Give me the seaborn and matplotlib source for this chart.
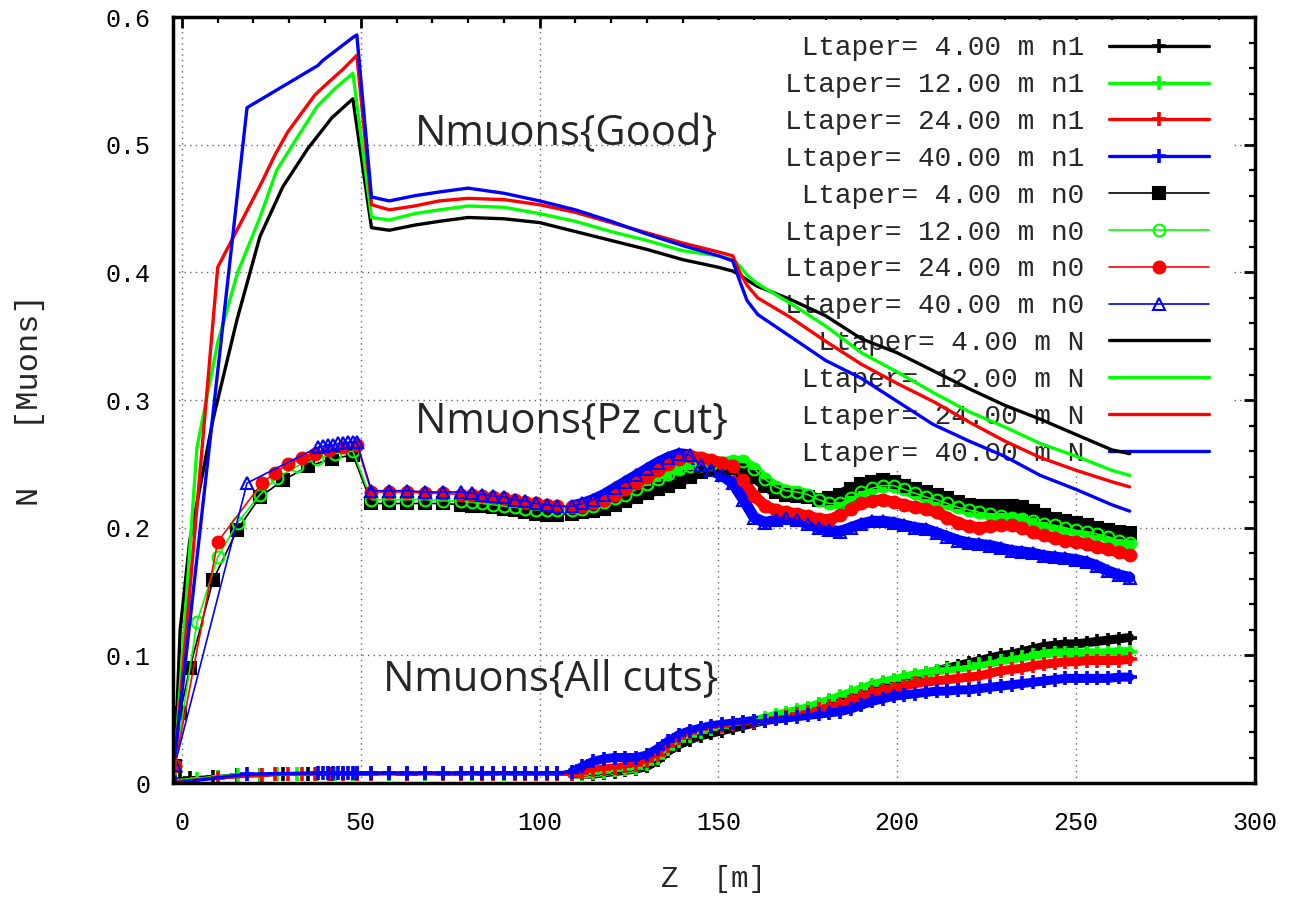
import numpy as np
import matplotlib
matplotlib.use("Agg")
import matplotlib.pyplot as plt
import seaborn as sns
from matplotlib.patches import Rectangle
from matplotlib.ticker import MultipleLocator, FuncFormatter

# ---- sampling positions along the channel (m) ----
# start-up section, one list per taper length
z_early_4 = [-2, -0.5, 2.2, 8.7, 15.4, 21.8, 28.2, 35.2, 41.9, 47.8]
z_early_12 = [-2, 4.2, 10, 15.6, 21.8, 26.5, 32.1, 37.8, 42.8, 47.8]
z_early_24 = [-2, 10, 22.4, 26, 29.6, 33.5, 37.2, 41, 45, 48.9]
z_early_40 = [-2, 18.2, 38, 39.4, 40.8, 42.2, 43.6, 45, 46.4, 47.8, 48.9]
# after the taper
z_mid = [53, 58, 63, 68, 73, 78, 81, 84, 87, 90, 93, 96, 99, 102, 105]
z_dense = np.arange(109, 266, 3)
z_good_late = [53, 58, 65, 72, 80, 90, 100, 110, 120, 130, 140, 150, 154, 156,
               158, 161, 170, 180, 190, 200, 210, 220, 230, 240, 250, 260, 265]

# ---- Nmuons{Good}  (series "N") ----
good_4_early = [0.015, 0.12, 0.19, 0.285, 0.363, 0.428, 0.467, 0.497, 0.521, 0.536]
good_12_early = [0.015, 0.263, 0.345, 0.40, 0.443, 0.48, 0.505, 0.53, 0.544, 0.556]
good_24_early = [0.015, 0.404, 0.471, 0.492, 0.51, 0.525, 0.539, 0.549, 0.559, 0.570]
good_40_early = [0.02, 0.529, 0.562, 0.566, 0.569, 0.572, 0.575, 0.578, 0.581, 0.584, 0.586]
good_4_late = [0.435, 0.433, 0.437, 0.440, 0.443, 0.442, 0.439, 0.432, 0.425, 0.418,
               0.410, 0.404, 0.401, 0.398, 0.394, 0.389, 0.379, 0.366, 0.348, 0.337,
               0.323, 0.309, 0.296, 0.285, 0.273, 0.261, 0.258]
good_12_late = [0.443, 0.441, 0.446, 0.449, 0.452, 0.451, 0.446, 0.440, 0.432, 0.425,
                0.417, 0.413, 0.410, 0.405, 0.398, 0.391, 0.376, 0.358, 0.337, 0.322,
                0.306, 0.291, 0.279, 0.266, 0.256, 0.245, 0.241]
good_24_late = [0.453, 0.449, 0.452, 0.456, 0.458, 0.457, 0.453, 0.447, 0.439, 0.431,
                0.423, 0.416, 0.413, 0.400, 0.390, 0.380, 0.365, 0.346, 0.328, 0.313,
                0.299, 0.283, 0.268, 0.255, 0.245, 0.236, 0.232]
good_40_late = [0.459, 0.456, 0.460, 0.463, 0.466, 0.462, 0.456, 0.449, 0.440, 0.430,
                0.421, 0.413, 0.409, 0.393, 0.378, 0.367, 0.350, 0.331, 0.317, 0.299,
                0.281, 0.268, 0.256, 0.241, 0.230, 0.218, 0.213]

# ---- Nmuons{Pz cut}  (series "n0") ----
pz_4_early = [0.013, 0.055, 0.09, 0.159, 0.198, 0.224, 0.237, 0.248, 0.254, 0.257]
pz_12_early = [0.013, 0.126, 0.177, 0.204, 0.226, 0.239, 0.248, 0.254, 0.258, 0.260]
pz_24_early = [0.013, 0.189, 0.235, 0.243, 0.25, 0.255, 0.258, 0.261, 0.263, 0.265]
pz_40_early = [0.014, 0.235, 0.263, 0.264, 0.265, 0.265, 0.266, 0.266, 0.267, 0.267, 0.267]
pz_4_mid = [0.219, 0.219, 0.219, 0.219, 0.219, 0.218, 0.217, 0.217, 0.216, 0.215,
            0.214, 0.212, 0.211, 0.210, 0.210]
pz_12_mid = [0.222, 0.222, 0.222, 0.222, 0.221, 0.221, 0.220, 0.219, 0.218, 0.217,
             0.216, 0.215, 0.214, 0.214, 0.214]
pz_24_mid = [0.228, 0.228, 0.228, 0.227, 0.227, 0.226, 0.226, 0.225, 0.224, 0.223,
             0.222, 0.220, 0.219, 0.218, 0.217]
pz_40_mid = [0.229, 0.229, 0.229, 0.228, 0.228, 0.228, 0.227, 0.226, 0.225, 0.224,
             0.222, 0.221, 0.219, 0.218, 0.217]
pz_4_dense = [0.211, 0.212, 0.213, 0.215, 0.218, 0.221, 0.224, 0.227, 0.230, 0.233,
              0.236, 0.240, 0.244, 0.246, 0.247, 0.247, 0.245, 0.240, 0.233, 0.228,
              0.226, 0.225, 0.224, 0.222, 0.223, 0.226, 0.230, 0.234, 0.236, 0.237,
              0.236, 0.233, 0.230, 0.228, 0.226, 0.223, 0.220, 0.218, 0.217, 0.217,
              0.217, 0.217, 0.216, 0.213, 0.210, 0.207, 0.205, 0.204, 0.202, 0.200,
              0.198, 0.197, 0.196]
pz_12_dense = [0.214, 0.215, 0.217, 0.220, 0.223, 0.226, 0.230, 0.234, 0.238, 0.242,
               0.246, 0.248, 0.249, 0.250, 0.251, 0.252, 0.252, 0.246, 0.238, 0.232,
               0.229, 0.228, 0.226, 0.222, 0.219, 0.219, 0.223, 0.228, 0.231, 0.233,
               0.233, 0.230, 0.227, 0.224, 0.222, 0.219, 0.216, 0.214, 0.212, 0.211,
               0.209, 0.208, 0.207, 0.205, 0.203, 0.202, 0.200, 0.198, 0.197, 0.195,
               0.193, 0.190, 0.188]
pz_24_dense = [0.216, 0.217, 0.219, 0.222, 0.226, 0.230, 0.235, 0.240, 0.245, 0.250,
               0.254, 0.256, 0.255, 0.253, 0.251, 0.248, 0.237, 0.225, 0.217, 0.214,
               0.212, 0.211, 0.209, 0.207, 0.206, 0.210, 0.215, 0.219, 0.221, 0.222,
               0.220, 0.218, 0.216, 0.215, 0.212, 0.208, 0.204, 0.201, 0.200, 0.201,
               0.202, 0.202, 0.200, 0.197, 0.194, 0.192, 0.190, 0.189, 0.187, 0.185,
               0.183, 0.181, 0.179]
pz_40_dense = [0.217, 0.219, 0.222, 0.226, 0.231, 0.236, 0.241, 0.246, 0.251, 0.255,
               0.258, 0.257, 0.249, 0.245, 0.241, 0.235, 0.222, 0.208, 0.204, 0.206,
               0.208, 0.206, 0.203, 0.200, 0.198, 0.197, 0.200, 0.203, 0.205, 0.205,
               0.204, 0.202, 0.200, 0.199, 0.196, 0.193, 0.190, 0.188, 0.187, 0.186,
               0.184, 0.182, 0.181, 0.180, 0.178, 0.177, 0.176, 0.175, 0.173, 0.170,
               0.166, 0.163, 0.161]

# ---- Nmuons{All cuts}  (series "n1") ----
all_4_early = [0.002, 0.003, 0.004, 0.005, 0.006, 0.006, 0.007, 0.007, 0.007, 0.007]
all_12_early = [0.002, 0.003, 0.005, 0.006, 0.006, 0.007, 0.007, 0.007, 0.007, 0.007]
all_24_early = [0.001, 0.004, 0.006, 0.007, 0.007, 0.007, 0.007, 0.007, 0.007, 0.007]
all_40_early = [0.0, 0.007, 0.008, 0.008, 0.008, 0.008, 0.008, 0.008, 0.008, 0.008, 0.008]
all_4_mid = [0.007, 0.007, 0.007, 0.007, 0.007, 0.007, 0.007, 0.007, 0.007, 0.007,
             0.007, 0.007, 0.007, 0.007, 0.007]
all_12_mid = [0.007, 0.007, 0.008, 0.007, 0.007, 0.007, 0.007, 0.008, 0.007, 0.007,
              0.007, 0.007, 0.007, 0.007, 0.007]
all_24_mid = [0.007, 0.008, 0.007, 0.008, 0.007, 0.007, 0.008, 0.007, 0.007, 0.008,
              0.007, 0.007, 0.007, 0.007, 0.007]
all_40_mid = [0.008, 0.008, 0.008, 0.008, 0.008, 0.008, 0.008, 0.008, 0.008, 0.008,
              0.008, 0.008, 0.008, 0.008, 0.008]
all_4_dense = [0.007, 0.007, 0.007, 0.008, 0.009, 0.010, 0.011, 0.013, 0.018, 0.025,
               0.030, 0.034, 0.037, 0.039, 0.041, 0.043, 0.045, 0.047, 0.049, 0.051,
               0.053, 0.055, 0.058, 0.061, 0.064, 0.067, 0.070, 0.073, 0.076, 0.078,
               0.080, 0.082, 0.084, 0.086, 0.088, 0.090, 0.092, 0.094, 0.096, 0.098,
               0.100, 0.101, 0.103, 0.105, 0.107, 0.108, 0.109, 0.109, 0.110, 0.111,
               0.112, 0.113, 0.114]
all_12_dense = [0.007, 0.007, 0.008, 0.009, 0.010, 0.011, 0.012, 0.015, 0.020, 0.027,
                0.033, 0.037, 0.040, 0.042, 0.044, 0.046, 0.048, 0.049, 0.051, 0.053,
                0.055, 0.057, 0.059, 0.062, 0.065, 0.068, 0.071, 0.074, 0.077, 0.079,
                0.081, 0.083, 0.085, 0.086, 0.088, 0.089, 0.090, 0.091, 0.093, 0.094,
                0.096, 0.097, 0.099, 0.100, 0.101, 0.102, 0.102, 0.102, 0.102, 0.102,
                0.102, 0.103, 0.103]
all_24_dense = [0.007, 0.008, 0.010, 0.011, 0.012, 0.013, 0.014, 0.017, 0.022, 0.029,
                0.035, 0.039, 0.042, 0.044, 0.045, 0.046, 0.047, 0.048, 0.049, 0.051,
                0.052, 0.054, 0.056, 0.058, 0.060, 0.062, 0.065, 0.068, 0.071, 0.073,
                0.074, 0.076, 0.078, 0.079, 0.080, 0.081, 0.082, 0.083, 0.084, 0.086,
                0.088, 0.089, 0.090, 0.092, 0.093, 0.094, 0.095, 0.095, 0.096, 0.096,
                0.096, 0.096, 0.097]
all_40_dense = [0.009, 0.013, 0.017, 0.019, 0.020, 0.020, 0.020, 0.022, 0.027, 0.033,
                0.038, 0.041, 0.043, 0.045, 0.046, 0.047, 0.048, 0.049, 0.049, 0.050,
                0.051, 0.052, 0.053, 0.054, 0.055, 0.056, 0.058, 0.061, 0.064, 0.066,
                0.068, 0.069, 0.070, 0.071, 0.072, 0.072, 0.073, 0.073, 0.074, 0.075,
                0.076, 0.077, 0.078, 0.079, 0.080, 0.081, 0.082, 0.082, 0.082, 0.082,
                0.082, 0.083, 0.083]

tapers = ["4.00", "12.00", "24.00", "40.00"]
colors = ["black", "#00ff00", "red", "blue"]
z_early = [z_early_4, z_early_12, z_early_24, z_early_40]
good_early = [good_4_early, good_12_early, good_24_early, good_40_early]
good_late = [good_4_late, good_12_late, good_24_late, good_40_late]
pz_early = [pz_4_early, pz_12_early, pz_24_early, pz_40_early]
pz_mid = [pz_4_mid, pz_12_mid, pz_24_mid, pz_40_mid]
pz_dense = [pz_4_dense, pz_12_dense, pz_24_dense, pz_40_dense]
all_early = [all_4_early, all_12_early, all_24_early, all_40_early]
all_mid = [all_4_mid, all_12_mid, all_24_mid, all_40_mid]
all_dense = [all_4_dense, all_12_dense, all_24_dense, all_40_dense]

# n0 marker style per taper: filled square, open circle, filled circle, open triangle
n0_markers = [("s", True), ("o", False), ("o", True), ("^", False)]

sns.set_style("white")
plt.rcParams["font.family"] = ["Liberation Mono", "DejaVu Sans"]

fig = plt.figure(figsize=(12.91, 8.97), dpi=100)
ax = fig.add_axes([0.134, 0.127, 0.838, 0.854])

mono = "Liberation Mono"
handles, labels = [], []

# All cuts: thick line with "+" (the densely sampled tail merges into a band)
for i, c in enumerate(colors):
    z = np.concatenate([z_early[i], z_mid, z_dense])
    y = np.concatenate([all_early[i], all_mid[i], all_dense[i]])
    sns.lineplot(x=z_dense, y=all_dense[i], ax=ax, color=c, lw=6.5,
                 estimator=None, sort=False, zorder=1.9)
    sns.lineplot(x=z, y=y, ax=ax, color=c, lw=2.4, marker="+", markersize=10,
                 markeredgewidth=2.6, markeredgecolor=c, estimator=None, sort=False,
                 zorder=2)
    handles.append(ax.lines[-1])
    labels.append(f"Ltaper= {tapers[i]} m n1".rjust(18))

# Pz cut: thin line with symbols
for i, c in enumerate(colors):
    z = np.concatenate([z_early[i], z_mid, z_dense])
    y = np.concatenate([pz_early[i], pz_mid[i], pz_dense[i]])
    m, filled = n0_markers[i]
    sns.lineplot(x=z_dense, y=pz_dense[i], ax=ax, color=c, lw=8,
                 estimator=None, sort=False, zorder=2.1)
    sns.lineplot(x=z, y=y, ax=ax, color=c, lw=1.2, marker=m, markersize=8.5,
                 markeredgewidth=1.5, markeredgecolor=c,
                 markerfacecolor=c if filled else "none",
                 estimator=None, sort=False, zorder=2.2)
    handles.append(ax.lines[-1])
    labels.append(f"Ltaper= {tapers[i]} m n0".rjust(18))

# Good: thick plain line
for i, c in enumerate(colors):
    z = np.concatenate([z_early[i], z_good_late])
    y = np.concatenate([good_early[i], good_late[i]])
    sns.lineplot(x=z, y=y, ax=ax, color=c, lw=2.4, estimator=None, sort=False,
                 zorder=2.4)
    handles.append(ax.lines[-1])
    labels.append(f"Ltaper= {tapers[i]} m N".rjust(18))

ax.set_xlim(-2.5, 300)
ax.set_ylim(0, 0.6)
ax.xaxis.set_major_locator(MultipleLocator(50))
ax.xaxis.set_minor_locator(MultipleLocator(10))
ax.yaxis.set_major_locator(MultipleLocator(0.1))
ax.yaxis.set_minor_locator(MultipleLocator(0.02))
ax.xaxis.set_major_formatter(FuncFormatter(lambda v, p: f"{v:g}"))
ax.yaxis.set_major_formatter(FuncFormatter(lambda v, p: f"{v:g}"))

ax.set_axisbelow(True)
ax.grid(True, which="major", color="0.4", lw=1.0, linestyle=(0, (1, 3)))
for s in ax.spines.values():
    s.set_linewidth(2.5)
    s.set_color("black")
ax.tick_params(which="both", direction="in", top=True, right=True, colors="black")
ax.tick_params(which="major", length=8, width=2.0, labelsize=18)
ax.tick_params(which="minor", length=4, width=1.6)
ax.tick_params(axis="y", which="major", pad=16)
ax.tick_params(axis="x", which="major", pad=20)
for t in ax.get_xticklabels() + ax.get_yticklabels():
    t.set_family(mono)

ax.set_xlabel("Z  [m]", fontsize=21, family=mono, labelpad=22)
ax.set_ylabel("N   [Muons]", fontsize=23, family=mono, labelpad=44)

# white key area that hides the grid but sits under the curves
ax.add_patch(Rectangle((0.478, 0.409), 0.501, 0.587, transform=ax.transAxes,
                       facecolor="white", edgecolor="none", zorder=1.5))

leg = ax.legend(handles, labels, loc="upper right", bbox_to_anchor=(0.958, 0.976),
                frameon=False, prop={"family": mono, "size": 20}, handlelength=3.6,
                handletextpad=0.9, labelspacing=0.39, borderpad=0, borderaxespad=0,
                markerfirst=False, numpoints=1)
leg.set_zorder(1.6)

txt = dict(fontsize=30, family="Open Sans", ha="left", va="baseline", zorder=3)
ax.text(65.1, 0.4997, "Nmuons{Good}", **txt)
ax.text(65.1, 0.275, "Nmuons{Pz cut}", **txt)
ax.text(56.2, 0.073, "Nmuons{All cuts}", **txt)

fig.savefig("out.png", dpi=100)
